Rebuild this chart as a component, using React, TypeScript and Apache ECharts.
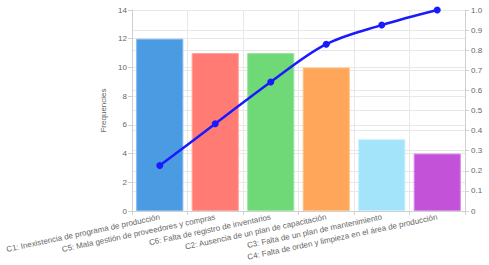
import React, { useEffect, useRef } from "react";
import * as echarts from "echarts";

const categories = [
  "C1: Inexistencia de programa de producción",
  "C5: Mala gestión de proveedores y compras",
  "C6: Falta de registro de inventarios",
  "C2: Ausencia de un plan de capacitación",
  "C3: Falta de un plan de mantenimiento",
  "C4: Falta de orden y limpieza en el área de producción",
];
const frequencies = [12, 11, 11, 10, 5, 4];
const cumulative = [0.226, 0.434, 0.642, 0.83, 0.925, 1.0];
const barColors = ["#4b9be3", "#ff7b74", "#6fd877", "#ffa65a", "#a3e4fb", "#c452d9"];
const barBorders = ["#7db9ef", "#ffa39e", "#9be6a1", "#ffc48f", "#c6effd", "#d98ae7"];
const leftTicks = { min: 0, max: 14, interval: 2 };
const rightTicks = { min: 0, max: 1, interval: 0.1 };

export default function App() {
  const ref = useRef<HTMLDivElement>(null);
  useEffect(() => {
    if (!ref.current) return;
    const chart = echarts.init(ref.current, undefined, { renderer: "svg" });
    const font = "Liberation Sans, Arial, sans-serif";
    const grid = "#e8e8e8";
    chart.setOption({
      animation: false,
      textStyle: { fontFamily: font },
      grid: { left: 132, right: 24, top: 10, bottom: 54 },
      xAxis: {
        type: "category",
        data: categories,
        boundaryGap: true,
        axisLine: { show: true, lineStyle: { color: "#d0d0d0" } },
        axisTick: { show: true, length: 4, lineStyle: { color: "#d0d0d0" } },
        axisLabel: {
          rotate: 12,
          fontSize: 8,
          color: "#666",
          margin: 6,
          interval: 0,
          fontFamily: font,
        },
        splitLine: { show: true, lineStyle: { color: grid } },
      },
      yAxis: [
        {
          type: "value",
          min: leftTicks.min,
          max: leftTicks.max,
          interval: leftTicks.interval,
          name: "Frequencies",
          nameLocation: "middle",
          nameGap: 25,
          nameTextStyle: { fontSize: 8, color: "#666", fontFamily: font },
          axisLine: { show: true, lineStyle: { color: "#d0d0d0" } },
          axisTick: { show: true, length: 4, lineStyle: { color: "#d0d0d0" } },
          axisLabel: { fontSize: 8, color: "#666", margin: 5, fontFamily: font },
          splitLine: { show: true, lineStyle: { color: grid } },
        },
        {
          type: "value",
          min: rightTicks.min,
          max: rightTicks.max,
          interval: rightTicks.interval,
          position: "right",
          axisLine: { show: true, lineStyle: { color: "#d0d0d0" } },
          axisTick: { show: true, length: 4, lineStyle: { color: "#d0d0d0" } },
          axisLabel: {
            fontSize: 8,
            color: "#666",
            margin: 6,
            fontFamily: font,
            formatter: (v: number) => (v === 0 ? "0" : v.toFixed(1)),
          },
          splitLine: { show: true, lineStyle: { color: grid } },
        },
      ],
      series: [
        {
          type: "bar",
          yAxisIndex: 0,
          barCategoryGap: "15%",
          data: frequencies.map((v, i) => ({
            value: v,
            itemStyle: { color: barColors[i], borderColor: barBorders[i], borderWidth: 1 },
          })),
        },
        {
          type: "line",
          yAxisIndex: 1,
          data: cumulative,
          smooth: 0.35,
          symbol: "circle",
          symbolSize: 7,
          lineStyle: { color: "#1a1aff", width: 2.5 },
          itemStyle: { color: "#1a1aff" },
          z: 5,
        },
      ],
    });
    return () => chart.dispose();
  }, []);
  return (
    <div
      ref={ref}
      style={{ position: "fixed", left: 0, top: 0, width: 489, height: 265, background: "#fff" }}
    />
  );
}
